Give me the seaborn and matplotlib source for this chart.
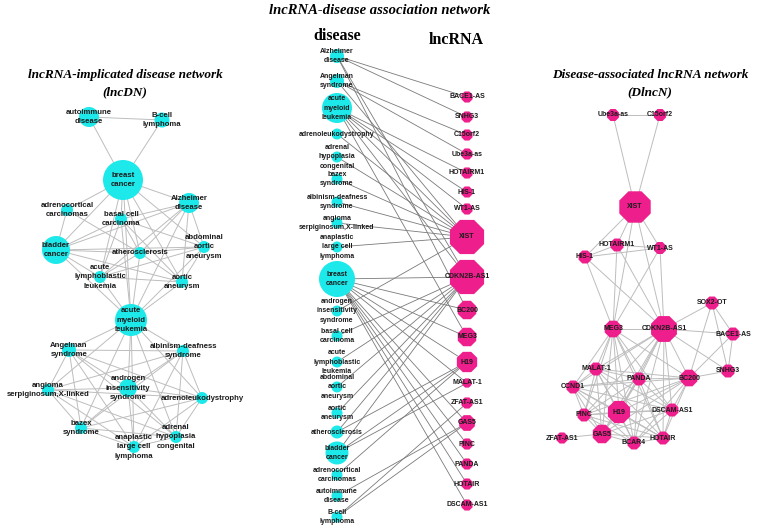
import matplotlib
matplotlib.use("Agg")
import matplotlib.pyplot as plt
from matplotlib.collections import LineCollection
from itertools import combinations
import seaborn as sns
import pandas as pd

# ---- data ----
diseases = [
    "Alzheimer disease", "Angelman syndrome", "acute myeloid leukemia",
    "adrenoleukodystrophy", "adrenal hypoplasia congenital", "bazex syndrome",
    "albinism-deafness syndrome", "angioma serpiginosum,X-linked",
    "anaplastic large cell lymphoma", "breast cancer",
    "androgen insensitivity syndrome", "basal cell carcinoma",
    "acute lymphoblastic leukemia", "abdominal aortic aneurysm",
    "aortic aneurysm", "atherosclerosis", "bladder cancer",
    "adrenocortical carcinomas", "autoimmune disease", "B-cell lymphoma",
]
lncrnas = [
    "BACE1-AS", "SNHG3", "C15orf2", "Ube3a-as", "HOTAIRM1", "HIS-1", "WT1-AS",
    "XIST", "CDKN2B-AS1", "BC200", "MEG3", "H19", "MALAT-1", "ZFAT-AS1",
    "GAS5", "PINC", "PANDA", "HOTAIR", "DSCAM-AS1",
]
# disease -> associated lncRNAs (middle bipartite network)
assoc = {
    "Alzheimer disease": ["BACE1-AS", "SNHG3", "CDKN2B-AS1", "BC200"],
    "Angelman syndrome": ["C15orf2", "Ube3a-as", "XIST"],
    "acute myeloid leukemia": ["HOTAIRM1", "HIS-1", "WT1-AS", "XIST", "CDKN2B-AS1", "MEG3"],
    "adrenoleukodystrophy": ["XIST"],
    "adrenal hypoplasia congenital": ["XIST"],
    "bazex syndrome": ["XIST"],
    "albinism-deafness syndrome": ["XIST"],
    "angioma serpiginosum,X-linked": ["XIST"],
    "anaplastic large cell lymphoma": ["XIST"],
    "breast cancer": ["CDKN2B-AS1", "BC200", "MEG3", "H19", "MALAT-1", "GAS5",
                      "PINC", "PANDA", "HOTAIR", "DSCAM-AS1"],
    "androgen insensitivity syndrome": ["XIST"],
    "basal cell carcinoma": ["CDKN2B-AS1"],
    "acute lymphoblastic leukemia": ["CDKN2B-AS1"],
    "abdominal aortic aneurysm": ["CDKN2B-AS1"],
    "aortic aneurysm": ["CDKN2B-AS1"],
    "atherosclerosis": ["CDKN2B-AS1", "H19"],
    "bladder cancer": ["CDKN2B-AS1", "H19", "MALAT-1"],
    "adrenocortical carcinomas": ["H19"],
    "autoimmune disease": ["GAS5"],
    "B-cell lymphoma": ["GAS5", "ZFAT-AS1"],
}
# lncRNAs only present in the DlncN panel
dlncn_extra = {
    "SOX2-OT": ["Alzheimer disease"],
    "CCND1": ["breast cancer"],
    "BCAR4": ["breast cancer"],
}

# ---- layout (pixel coordinates) ----
CYAN = "#1de9ea"
PINK = "#ee1e8c"
EDGE_LIGHT = "#bdbdbd"
EDGE_DARK = "#7a7a7a"
TXT = "#1c1c1c"

disease_labels = {
    "Alzheimer disease": "Alzheimer\ndisease",
    "Angelman syndrome": "Angelman\nsyndrome",
    "acute myeloid leukemia": "acute\nmyeloid\nleukemia",
    "adrenoleukodystrophy": "adrenoleukodystrophy",
    "adrenal hypoplasia congenital": "adrenal\nhypoplasia\ncongenital",
    "bazex syndrome": "bazex\nsyndrome",
    "albinism-deafness syndrome": "albinism-deafness\nsyndrome",
    "angioma serpiginosum,X-linked": "angioma\nserpiginosum,X-linked",
    "anaplastic large cell lymphoma": "anaplastic\nlarge cell\nlymphoma",
    "breast cancer": "breast\ncancer",
    "androgen insensitivity syndrome": "androgen\ninsensitivity\nsyndrome",
    "basal cell carcinoma": "basal cell\ncarcinoma",
    "acute lymphoblastic leukemia": "acute\nlymphoblastic\nleukemia",
    "abdominal aortic aneurysm": "abdominal\naortic\naneurysm",
    "aortic aneurysm": "aortic\naneurysm",
    "atherosclerosis": "atherosclerosis",
    "bladder cancer": "bladder\ncancer",
    "adrenocortical carcinomas": "adrenocortical\ncarcinomas",
    "autoimmune disease": "autoimmune\ndisease",
    "B-cell lymphoma": "B-cell\nlymphoma",
}

# middle column layout
mid_dx, mid_lx = 337, 467
mid_dy = [56, 81, 108, 134, 157, 179, 202, 223, 247, 279, 311, 336, 362, 387,
          413, 432, 453, 475, 496, 517]
mid_dd = [14, 14, 30, 11, 11, 11, 11, 11, 11, 36, 11, 11, 11, 11, 11, 13, 23, 11, 11, 11]
mid_ly = [97, 117, 135, 154, 173, 192, 209, 237, 277, 310, 337, 362, 383, 403,
          423, 444, 464, 484, 505]
mid_ld = [12, 12, 12, 12, 12, 12, 12, 37, 37, 20, 20, 22, 10, 12, 17, 12, 12, 12, 12]

# lncDN layout: node (x, y, diameter)
lncdn_pos = {
    "autoimmune disease": (89, 117, 20),
    "B-cell lymphoma": (162, 120, 15),
    "breast cancer": (123, 180, 40),
    "Alzheimer disease": (189, 203, 20),
    "adrenocortical carcinomas": (67, 210, 12),
    "basal cell carcinoma": (121, 219, 12),
    "bladder cancer": (56, 250, 28),
    "abdominal aortic aneurysm": (204, 247, 12),
    "atherosclerosis": (140, 253, 12),
    "acute lymphoblastic leukemia": (100, 277, 12),
    "aortic aneurysm": (182, 282, 12),
    "acute myeloid leukemia": (131, 320, 32),
    "Angelman syndrome": (69, 350, 14),
    "albinism-deafness syndrome": (183, 351, 12),
    "androgen insensitivity syndrome": (128, 388, 18),
    "angioma serpiginosum,X-linked": (48, 390, 12),
    "adrenoleukodystrophy": (202, 398, 12),
    "bazex syndrome": (81, 428, 12),
    "adrenal hypoplasia congenital": (176, 437, 12),
    "anaplastic large cell lymphoma": (134, 447, 12),
}
# DlncN layout: node (x, y, diameter)
dlncn_pos = {
    "Ube3a-as": (613, 115, 13), "C15orf2": (660, 115, 13),
    "XIST": (635, 207, 34), "HOTAIRM1": (617, 245, 14),
    "WT1-AS": (660, 248, 13), "HIS-1": (585, 257, 14),
    "SOX2-OT": (712, 303, 14), "MEG3": (613, 329, 18),
    "CDKN2B-AS1": (664, 329, 28), "BACE1-AS": (733, 334, 14),
    "SNHG3": (728, 371, 14), "MALAT-1": (596, 369, 14),
    "CCND1": (573, 387, 14), "PANDA": (639, 379, 14),
    "BC200": (689, 378, 18), "H19": (619, 412, 24),
    "PINC": (584, 415, 14), "DSCAM-AS1": (672, 410, 14),
    "GAS5": (602, 434, 20), "ZFAT-AS1": (562, 438, 12),
    "BCAR4": (634, 443, 14), "HOTAIR": (663, 438, 14),
}


def project(groups):
    edges = set()
    for members in groups:
        for a, b in combinations(sorted(set(members)), 2):
            edges.add((a, b))
    return sorted(edges)


def pt_size(d):
    return (d * 0.72) ** 2


def draw_edges(ax, segs, color, lw):
    lc = LineCollection(segs, colors=color, linewidths=lw, zorder=1)
    ax.add_collection(lc)


def draw_nodes(ax, df, color, marker):
    sns.scatterplot(data=df, x="x", y="y", s=[pt_size(d) for d in df["d"]],
                    color=color, marker=marker, edgecolor="none", linewidth=0,
                    legend=False, zorder=2, ax=ax)


sns.set_theme(style="white")
plt.rcParams["font.family"] = ["Liberation Sans", "DejaVu Sans"]

fig = plt.figure(figsize=(7.58, 5.30), dpi=100)
ax = fig.add_axes([0, 0, 1, 1])
ax.set_xlim(0, 758)
ax.set_ylim(530, 0)
ax.axis("off")

# ---- lncDN (disease projection) ----
lnc_groups = {}
for dis, lncs in assoc.items():
    for l in lncs:
        lnc_groups.setdefault(l, []).append(dis)
lncdn_edges = project(lnc_groups.values())
draw_edges(ax, [[lncdn_pos[a][:2], lncdn_pos[b][:2]] for a, b in lncdn_edges],
           EDGE_LIGHT, 0.7)
df_l = pd.DataFrame([(k, *v) for k, v in lncdn_pos.items()], columns=["name", "x", "y", "d"])
draw_nodes(ax, df_l, CYAN, "o")
for _, r in df_l.iterrows():
    ax.text(r.x, r.y, disease_labels[r["name"]], ha="center", va="center",
            fontsize=5.6, fontweight="bold", color=TXT, linespacing=1.45, zorder=3)

# ---- DlncN (lncRNA projection) ----
dis_groups = {d: list(v) for d, v in assoc.items()}
for l, ds in dlncn_extra.items():
    for d in ds:
        dis_groups[d].append(l)
dlncn_edges = project(dis_groups.values())
draw_edges(ax, [[dlncn_pos[a][:2], dlncn_pos[b][:2]] for a, b in dlncn_edges],
           EDGE_LIGHT, 0.7)
df_r = pd.DataFrame([(k, *v) for k, v in dlncn_pos.items()], columns=["name", "x", "y", "d"])
draw_nodes(ax, df_r, PINK, "8")
for _, r in df_r.iterrows():
    ax.text(r.x, r.y, r["name"], ha="center", va="center", fontsize=5.0,
            fontweight="bold", color=TXT, zorder=3)

# ---- middle bipartite network ----
dpos = {d: (mid_dx, y) for d, y in zip(diseases, mid_dy)}
lpos = {l: (mid_lx, y) for l, y in zip(lncrnas, mid_ly)}
segs = [[dpos[d], lpos[l]] for d, ls in assoc.items() for l in ls]
draw_edges(ax, segs, EDGE_DARK, 0.6)
df_md = pd.DataFrame({"x": mid_dx, "y": mid_dy, "d": mid_dd})
draw_nodes(ax, df_md, CYAN, "o")
df_ml = pd.DataFrame({"x": mid_lx, "y": mid_ly, "d": mid_ld})
draw_nodes(ax, df_ml, PINK, "8")
for d, y in zip(diseases, mid_dy):
    ax.text(mid_dx, y, disease_labels[d], ha="center", va="center", fontsize=5.0,
            fontweight="bold", color=TXT, linespacing=1.5, zorder=3)
for l, y in zip(lncrnas, mid_ly):
    ax.text(mid_lx, y, l, ha="center", va="center", fontsize=5.0,
            fontweight="bold", color=TXT, zorder=3)

# ---- titles ----
serif = dict(family=["Liberation Serif", "DejaVu Serif"], fontweight="bold", color="black")
ax.text(380, 10, "lncRNA-disease association network", ha="center", va="center",
        fontsize=10.5, style="italic", **serif)
ax.text(125, 84, "lncRNA-implicated disease network\n(lncDN)", ha="center", va="center",
        fontsize=9.5, style="italic", linespacing=1.6, **serif)
ax.text(650, 84, "Disease-associated lncRNA network\n(DlncN)", ha="center", va="center",
        fontsize=9.5, style="italic", linespacing=1.6, **serif)
ax.text(337, 36, "disease", ha="center", va="center", fontsize=11.5, **serif)
ax.text(456, 40, "lncRNA", ha="center", va="center", fontsize=11.5, **serif)

fig.savefig("out.png", dpi=100)
